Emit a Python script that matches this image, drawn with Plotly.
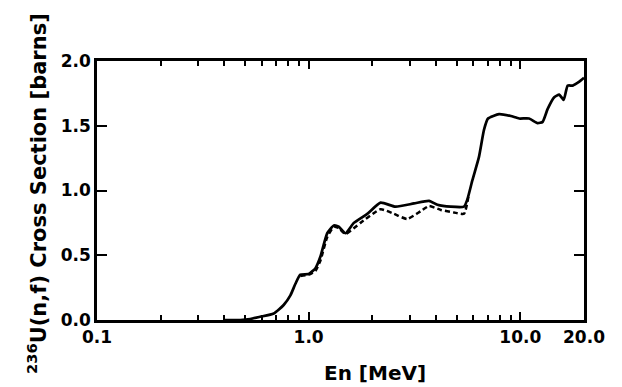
import plotly.graph_objects as go
import math

# Solid curve (MeV, barns)
solid_E = [0.40, 0.475, 0.53, 0.59, 0.684, 0.762, 0.82, 0.866, 0.914, 1.0, 1.077, 1.137,
           1.224, 1.315, 1.388, 1.493, 1.635, 1.892, 2.188, 2.576, 3.146, 3.707, 4.06,
           4.69, 5.42, 5.62, 5.94, 6.38, 6.74, 7.04, 7.94, 9.02, 9.88, 11.0, 12.07,
           12.75, 13.47, 14.47, 15.28, 16.03, 16.75, 17.69, 19.0, 20.0]
solid_S = [0.0, 0.0, 0.008, 0.025, 0.05, 0.116, 0.19, 0.28, 0.35, 0.355, 0.40, 0.49,
           0.67, 0.73, 0.72, 0.67, 0.75, 0.82, 0.906, 0.875, 0.90, 0.92, 0.89,
           0.875, 0.875, 0.93, 1.08, 1.26, 1.47, 1.556, 1.59, 1.575, 1.556, 1.556, 1.52,
           1.53, 1.63, 1.72, 1.74, 1.70, 1.81, 1.81, 1.84, 1.87]

# Dashed curve
dashed_E = [0.914, 1.0, 1.077, 1.137, 1.224, 1.315, 1.388, 1.493, 1.758, 2.188, 2.53,
            2.92, 3.38, 3.707, 4.21, 4.86, 5.42, 5.7]
dashed_S = [0.34, 0.35, 0.38, 0.46, 0.64, 0.72, 0.71, 0.665, 0.75, 0.855, 0.82,
            0.78, 0.84, 0.88, 0.85, 0.83, 0.82, 0.96]

x_major = [0.1, 1, 10, 20]
x_major_text = ["0.1", "1.0", "10.0", "20.0"]
x_minor = [0.2, 0.3, 0.4, 0.5, 0.6, 0.7, 0.8, 0.9, 2, 3, 4, 5, 6, 7, 8, 9]
y_ticks = [0.0, 0.5, 1.0, 1.5, 2.0]
y_text = ["0.0", "0.5", "1.0", "1.5", "2.0"]

FONT = "DejaVu Sans"
XR = [math.log10(0.1), math.log10(20)]
YR = [0, 2.0]

fig = go.Figure()
fig.add_trace(go.Scatter(x=solid_E, y=solid_S, mode="lines",
                         line=dict(color="black", width=2.7, shape="spline", smoothing=0.5),
                         showlegend=False))
fig.add_trace(go.Scatter(x=dashed_E, y=dashed_S, mode="lines",
                         line=dict(color="black", width=2.5, dash="5px,3px",
                                   shape="spline", smoothing=0.5),
                         showlegend=False))

W, H = 622, 387
L, R, T, B = 97, 38, 61, 67
pw, ph = W - L - R, H - T - B

def px_x(p):
    return (p - L) / pw

def px_y(p):
    return (H - B - p) / ph

fig.update_layout(
    width=W, height=H, autosize=False,
    margin=dict(l=L, r=R, t=T, b=B),
    paper_bgcolor="white", plot_bgcolor="white",
    font=dict(family=FONT, color="black"),
    xaxis=dict(type="log", range=XR,
               tickmode="array", tickvals=x_major, ticktext=x_major_text,
               ticks="inside", ticklen=8, tickwidth=2.4, tickcolor="black",
               minor=dict(tickmode="array", tickvals=x_minor, ticks="inside",
                          ticklen=5, tickwidth=2.2, tickcolor="black"),
               showline=True, linecolor="black", linewidth=2.7, mirror="allticks",
               showgrid=False, zeroline=False,
               tickfont=dict(family=FONT, size=17, weight="bold")),
    yaxis=dict(range=YR, tickmode="array", tickvals=y_ticks, ticktext=y_text,
               ticks="inside", ticklen=10, tickwidth=2.4, tickcolor="black",
               showline=True, linecolor="black", linewidth=2.7, mirror="allticks",
               showgrid=False, zeroline=False,
               tickfont=dict(family=FONT, size=17, weight="bold")),
    annotations=[
        dict(text="<sup>236</sup>U(n,f) Cross Section [barns]", textangle=-90,
             xref="paper", yref="paper", x=px_x(37), y=px_y(194),
             xanchor="center", yanchor="middle", showarrow=False,
             font=dict(family=FONT, size=21, weight="bold", color="black")),
        dict(text="En [MeV]", xref="paper", yref="paper",
             x=px_x(375), y=px_y(373), xanchor="center", yanchor="middle",
             showarrow=False,
             font=dict(family=FONT, size=20, weight="bold", color="black")),
    ],
)

fig.write_html("out.html")
